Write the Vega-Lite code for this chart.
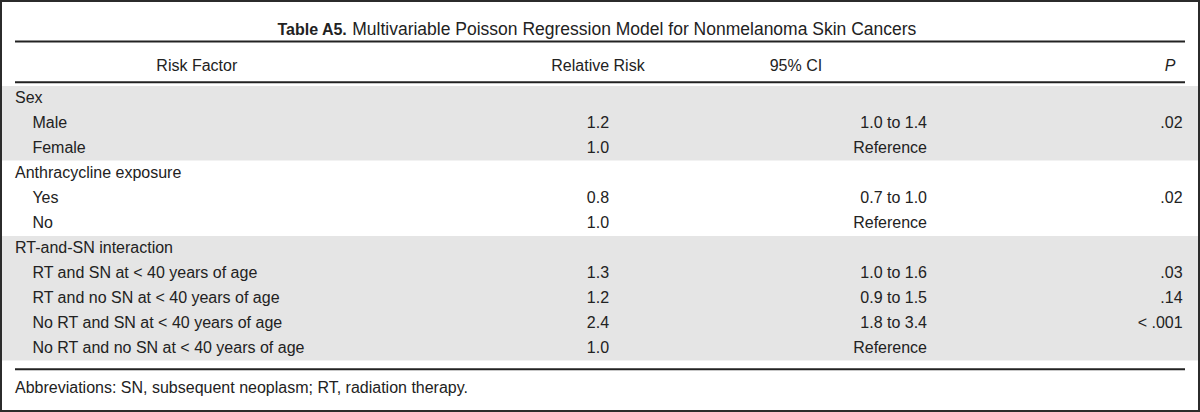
{
  "$schema": "https://vega.github.io/schema/vega-lite/v6.json",
  "width": 1200,
  "height": 412,
  "autosize": {"type": "fit", "contains": "padding"},
  "padding": 0,
  "background": "white",
  "config": {
    "view": {"stroke": "#2b2b2b", "strokeWidth": 4},
    "text": {"font": "Liberation Sans", "fontSize": 16, "color": "#222222", "baseline": "alphabetic"}
  },
  "datasets": {
    "rows": [
      {"row": 1, "kind": "group", "label": "Sex", "rr": "", "ci": "", "p": ""},
      {"row": 2, "kind": "item", "label": "Male", "rr": "1.2", "ci": "1.0 to 1.4", "p": ".02"},
      {"row": 3, "kind": "item", "label": "Female", "rr": "1.0", "ci": "Reference", "p": ""},
      {"row": 4, "kind": "group", "label": "Anthracycline exposure", "rr": "", "ci": "", "p": ""},
      {"row": 5, "kind": "item", "label": "Yes", "rr": "0.8", "ci": "0.7 to 1.0", "p": ".02"},
      {"row": 6, "kind": "item", "label": "No", "rr": "1.0", "ci": "Reference", "p": ""},
      {"row": 7, "kind": "group", "label": "RT-and-SN interaction", "rr": "", "ci": "", "p": ""},
      {"row": 8, "kind": "item", "label": "RT and SN at < 40 years of age", "rr": "1.3", "ci": "1.0 to 1.6", "p": ".03"},
      {"row": 9, "kind": "item", "label": "RT and no SN at < 40 years of age", "rr": "1.2", "ci": "0.9 to 1.5", "p": ".14"},
      {"row": 10, "kind": "item", "label": "No RT and SN at < 40 years of age", "rr": "2.4", "ci": "1.8 to 3.4", "p": "< .001"},
      {"row": 11, "kind": "item", "label": "No RT and no SN at < 40 years of age", "rr": "1.0", "ci": "Reference", "p": ""}
    ],
    "groups": [
      {"group": "Sex", "first": 1, "last": 3},
      {"group": "RT-and-SN interaction", "first": 7, "last": 11}
    ],
    "one": [{"k": 1}]
  },
  "layer": [
    {
      "data": {"name": "groups"},
      "mark": {"type": "rect", "color": "#e5e5e5", "yOffset": -17, "y2Offset": 7.5},
      "encoding": {
        "x": {"datum": 0.17, "type": "quantitative", "scale": {"domain": [0, 100], "nice": false, "zero": false}, "axis": null},
        "x2": {"datum": 99.83},
        "y": {"field": "first", "type": "quantitative", "scale": {"domain": [-3.12, 13.36], "reverse": true, "nice": false, "zero": false}, "axis": null},
        "y2": {"field": "last"}
      }
    },
    {
      "data": {"name": "one"},
      "mark": {"type": "rule", "color": "#222222", "strokeWidth": 2},
      "encoding": {
        "x": {"datum": 1.25, "type": "quantitative", "scale": {"domain": [0, 100], "nice": false, "zero": false}, "axis": null},
        "x2": {"datum": 98.75},
        "y": {"datum": -1.46, "type": "quantitative", "scale": {"domain": [-3.12, 13.36], "reverse": true, "nice": false, "zero": false}, "axis": null}
      }
    },
    {
      "data": {"name": "one"},
      "mark": {"type": "rule", "color": "#222222", "strokeWidth": 2},
      "encoding": {
        "x": {"datum": 1.25, "type": "quantitative", "scale": {"domain": [0, 100], "nice": false, "zero": false}, "axis": null},
        "x2": {"datum": 98.75},
        "y": {"datum": 0.172, "type": "quantitative", "scale": {"domain": [-3.12, 13.36], "reverse": true, "nice": false, "zero": false}, "axis": null}
      }
    },
    {
      "data": {"name": "one"},
      "mark": {"type": "rule", "color": "#222222", "strokeWidth": 2},
      "encoding": {
        "x": {"datum": 1.25, "type": "quantitative", "scale": {"domain": [0, 100], "nice": false, "zero": false}, "axis": null},
        "x2": {"datum": 98.75},
        "y": {"datum": 11.652, "type": "quantitative", "scale": {"domain": [-3.12, 13.36], "reverse": true, "nice": false, "zero": false}, "axis": null}
      }
    },
    {
      "data": {"name": "one"},
      "mark": {"type": "text", "align": "right", "fontWeight": "bold", "fontSize": 16},
      "encoding": {
        "x": {"datum": 28.9, "type": "quantitative", "scale": {"domain": [0, 100], "nice": false, "zero": false}, "axis": null},
        "y": {"datum": -1.74, "type": "quantitative", "scale": {"domain": [-3.12, 13.36], "reverse": true, "nice": false, "zero": false}, "axis": null},
        "text": {"value": "Table A5."}
      }
    },
    {
      "data": {"name": "one"},
      "mark": {"type": "text", "align": "left", "fontSize": 17.5},
      "encoding": {
        "x": {"datum": 29.35, "type": "quantitative", "scale": {"domain": [0, 100], "nice": false, "zero": false}, "axis": null},
        "y": {"datum": -1.74, "type": "quantitative", "scale": {"domain": [-3.12, 13.36], "reverse": true, "nice": false, "zero": false}, "axis": null},
        "text": {"value": "Multivariable Poisson Regression Model for Nonmelanoma Skin Cancers"}
      }
    },
    {
      "data": {"name": "one"},
      "mark": {"type": "text", "align": "center"},
      "encoding": {
        "x": {"datum": 16.4, "type": "quantitative", "scale": {"domain": [0, 100], "nice": false, "zero": false}, "axis": null},
        "y": {"datum": -0.292, "type": "quantitative", "scale": {"domain": [-3.12, 13.36], "reverse": true, "nice": false, "zero": false}, "axis": null},
        "text": {"value": "Risk Factor"}
      }
    },
    {
      "data": {"name": "one"},
      "mark": {"type": "text", "align": "center"},
      "encoding": {
        "x": {"datum": 49.83, "type": "quantitative", "scale": {"domain": [0, 100], "nice": false, "zero": false}, "axis": null},
        "y": {"datum": -0.292, "type": "quantitative", "scale": {"domain": [-3.12, 13.36], "reverse": true, "nice": false, "zero": false}, "axis": null},
        "text": {"value": "Relative Risk"}
      }
    },
    {
      "data": {"name": "one"},
      "mark": {"type": "text", "align": "center"},
      "encoding": {
        "x": {"datum": 66.33, "type": "quantitative", "scale": {"domain": [0, 100], "nice": false, "zero": false}, "axis": null},
        "y": {"datum": -0.292, "type": "quantitative", "scale": {"domain": [-3.12, 13.36], "reverse": true, "nice": false, "zero": false}, "axis": null},
        "text": {"value": "95% CI"}
      }
    },
    {
      "data": {"name": "one"},
      "mark": {"type": "text", "align": "center", "fontStyle": "italic"},
      "encoding": {
        "x": {"datum": 97.5, "type": "quantitative", "scale": {"domain": [0, 100], "nice": false, "zero": false}, "axis": null},
        "y": {"datum": -0.292, "type": "quantitative", "scale": {"domain": [-3.12, 13.36], "reverse": true, "nice": false, "zero": false}, "axis": null},
        "text": {"value": "P"}
      }
    },
    {
      "data": {"name": "rows"},
      "transform": [{"filter": "datum.kind === 'group'"}],
      "mark": {"type": "text", "align": "left"},
      "encoding": {
        "x": {"datum": 1.25, "type": "quantitative", "scale": {"domain": [0, 100], "nice": false, "zero": false}, "axis": null},
        "y": {"field": "row", "type": "quantitative", "scale": {"domain": [-3.12, 13.36], "reverse": true, "nice": false, "zero": false}, "axis": null},
        "text": {"field": "label"}
      }
    },
    {
      "data": {"name": "rows"},
      "transform": [{"filter": "datum.kind === 'item'"}],
      "mark": {"type": "text", "align": "left"},
      "encoding": {
        "x": {"datum": 2.7, "type": "quantitative", "scale": {"domain": [0, 100], "nice": false, "zero": false}, "axis": null},
        "y": {"field": "row", "type": "quantitative", "scale": {"domain": [-3.12, 13.36], "reverse": true, "nice": false, "zero": false}, "axis": null},
        "text": {"field": "label"}
      }
    },
    {
      "data": {"name": "rows"},
      "mark": {"type": "text", "align": "center"},
      "encoding": {
        "x": {"datum": 49.83, "type": "quantitative", "scale": {"domain": [0, 100], "nice": false, "zero": false}, "axis": null},
        "y": {"field": "row", "type": "quantitative", "scale": {"domain": [-3.12, 13.36], "reverse": true, "nice": false, "zero": false}, "axis": null},
        "text": {"field": "rr"}
      }
    },
    {
      "data": {"name": "rows"},
      "mark": {"type": "text", "align": "right"},
      "encoding": {
        "x": {"datum": 77.25, "type": "quantitative", "scale": {"domain": [0, 100], "nice": false, "zero": false}, "axis": null},
        "y": {"field": "row", "type": "quantitative", "scale": {"domain": [-3.12, 13.36], "reverse": true, "nice": false, "zero": false}, "axis": null},
        "text": {"field": "ci"}
      }
    },
    {
      "data": {"name": "rows"},
      "mark": {"type": "text", "align": "right"},
      "encoding": {
        "x": {"datum": 98.55, "type": "quantitative", "scale": {"domain": [0, 100], "nice": false, "zero": false}, "axis": null},
        "y": {"field": "row", "type": "quantitative", "scale": {"domain": [-3.12, 13.36], "reverse": true, "nice": false, "zero": false}, "axis": null},
        "text": {"field": "p"}
      }
    },
    {
      "data": {"name": "one"},
      "mark": {"type": "text", "align": "left"},
      "encoding": {
        "x": {"datum": 1.25, "type": "quantitative", "scale": {"domain": [0, 100], "nice": false, "zero": false}, "axis": null},
        "y": {"datum": 12.6, "type": "quantitative", "scale": {"domain": [-3.12, 13.36], "reverse": true, "nice": false, "zero": false}, "axis": null},
        "text": {"value": "Abbreviations: SN, subsequent neoplasm; RT, radiation therapy."}
      }
    }
  ]
}
